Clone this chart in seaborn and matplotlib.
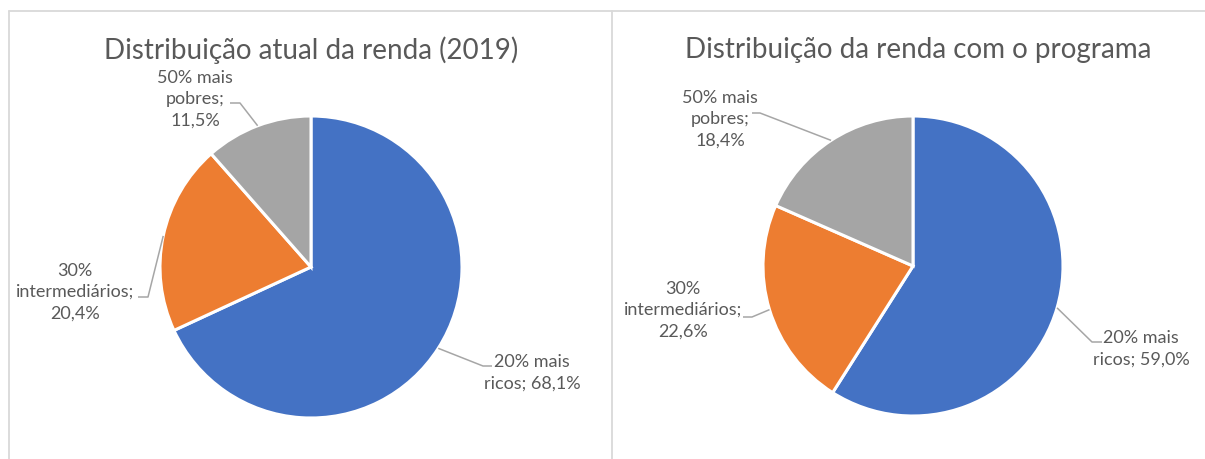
import numpy as np
import matplotlib
matplotlib.use("Agg")
import matplotlib.pyplot as plt
import seaborn as sns

# ---- data ----
categories = ["20% mais ricos", "30% intermediários", "50% mais pobres"]
label_texts_2019 = ["20% mais\nricos; 68,1%", "30%\nintermediários;\n20,4%", "50% mais\npobres;\n11,5%"]
label_texts_prog = ["20% mais\nricos; 59,0%", "30%\nintermediários;\n22,6%", "50% mais\npobres;\n18,4%"]
values_2019 = [68.1, 20.4, 11.5]
values_prog = [59.0, 22.6, 18.4]
titles = ["Distribuição atual da renda (2019)", "Distribuição da renda com o programa"]
colors = ["#4472C4", "#ED7D31", "#A5A5A5"]

sns.set_theme(style="white")
plt.rcParams["font.family"] = ["Lato", "DejaVu Sans"]

W, H = 1205, 459
fig = plt.figure(figsize=(W / 100, H / 100), dpi=100)
ax = fig.add_axes([0, 0, 1, 1])

TXT = "#595959"
LINE = "#A6A6A6"
BORDER = "#D9D9D9"

# panel borders (pixel layout, y flipped)
ax.plot([8.5, W], [H - 10.5, H - 10.5], color=BORDER, lw=1.3)
ax.plot([8.5, 8.5], [0, H - 10.5], color=BORDER, lw=1.3)
ax.plot([612, 612], [0, H - 10.5], color=BORDER, lw=1.3)

panels = [
    dict(values=values_2019, labels=label_texts_2019, title=titles[0],
         center=(311, H - 267), radius=151, title_xy=(311, H - 50),
         # text centre and elbow point for each label (pixel layout)
         text_xy=[(532, H - 373), (75, H - 292), (195, H - 99)],
         elbow=[(492, H - 366), (138, H - 297), (230, H - 103)],
         knee=[(483, H - 366), (148, H - 297), (240, H - 103)]),
    dict(values=values_prog, labels=label_texts_prog, title=titles[1],
         center=(913, H - 266), radius=150, title_xy=(918, H - 50),
         text_xy=[(1141, H - 349), (683, H - 310), (720, H - 119)],
         elbow=[(1102, H - 342), (743, H - 317), (752, H - 113)],
         knee=[(1092, H - 342), (752, H - 317), (760, H - 113)]),
]

for p in panels:
    vals = np.array(p["values"])
    ax.pie(vals, colors=colors, startangle=90, counterclock=False,
           center=p["center"], radius=p["radius"],
           wedgeprops=dict(edgecolor="white", linewidth=2.2))
    cx, cy = p["center"]
    r = p["radius"]
    ends = 90 - np.cumsum(vals) / vals.sum() * 360
    starts = np.concatenate([[90], ends[:-1]])
    mids = np.deg2rad((starts + ends) / 2)
    for i, m in enumerate(mids):
        ex, ey = cx + r * np.cos(m), cy + r * np.sin(m)
        kx, ky = p["knee"][i]
        bx, by = p["elbow"][i]
        ax.plot([ex, kx, bx], [ey, ky, by], color=LINE, lw=1.1,
                solid_capstyle="butt")
        tx, ty = p["text_xy"][i]
        ax.text(tx, ty, p["labels"][i], ha="center", va="center",
                fontsize=13, color=TXT, linespacing=1.4)
    ax.text(*p["title_xy"], p["title"], ha="center", va="center",
            fontsize=20, color=TXT)

ax.set_xlim(0, W)
ax.set_ylim(0, H)
ax.set_aspect("equal")
ax.axis("off")
fig.savefig("out.png", dpi=100, facecolor="white")
